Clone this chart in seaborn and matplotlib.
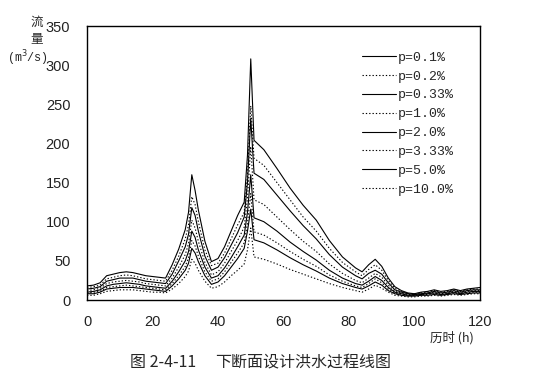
import matplotlib
matplotlib.use("Agg")
import matplotlib.pyplot as plt
import seaborn as sns
import pandas as pd

hours = [0, 2, 4, 6, 8, 10, 12, 14, 16, 18, 20, 22, 24, 26, 28, 30, 31, 32, 33, 34, 36, 38, 40, 42,
         44, 46, 48, 49, 50, 51, 54, 58, 62, 66, 70, 74, 78, 82, 84, 86, 88, 90, 92, 94, 96, 98,
         100, 102, 104, 106, 108, 110, 112, 114, 116, 118, 120]

labels = ["p=0.1%", "p=0.2%", "p=0.33%", "p=1.0%", "p=2.0%", "p=3.33%", "p=5.0%", "p=10.0%"]

q_p01 = [18, 19, 22, 31, 33, 35, 36, 35, 33, 31, 30, 29, 28, 45, 65, 90, 112, 160, 140, 115, 75, 49, 53, 68,
         88, 108, 125, 185, 308, 204, 192, 168, 143, 121, 102, 76, 55, 41, 36, 45, 52, 43, 28, 17, 12, 9,
         8, 10, 11, 13, 11, 12, 14, 12, 14, 15, 16]
q_p02 = [16, 17, 19, 27, 29, 31, 32, 31, 29, 27, 26, 25, 24, 38, 56, 78, 96, 132, 122, 100, 64, 44, 47, 60,
         78, 96, 112, 160, 248, 181, 172, 150, 128, 106, 88, 66, 48, 36, 31, 39, 45, 38, 25, 15, 11, 8,
         8, 9, 10, 12, 10, 11, 13, 11, 13, 14, 14]
q_p033 = [14, 15, 17, 24, 26, 28, 28, 28, 26, 24, 23, 22, 21, 33, 50, 68, 84, 118, 108, 88, 56, 38, 42, 54,
          70, 86, 106, 150, 232, 162, 154, 134, 114, 95, 78, 58, 42, 31, 27, 34, 38, 33, 22, 13, 10, 8,
          7, 8, 9, 11, 9, 10, 12, 10, 12, 13, 13]
q_p1 = [12, 13, 15, 21, 23, 24, 25, 24, 23, 21, 20, 19, 18, 28, 42, 58, 72, 102, 92, 75, 48, 32, 36, 47,
        62, 76, 93, 130, 196, 128, 122, 106, 90, 75, 62, 46, 34, 25, 22, 28, 34, 29, 19, 11, 9, 7,
        7, 8, 8, 10, 8, 9, 11, 9, 11, 12, 12]
q_p2 = [10, 11, 13, 18, 20, 21, 22, 21, 20, 18, 17, 16, 15, 24, 36, 50, 62, 88, 80, 64, 42, 28, 31, 41,
        54, 68, 83, 112, 160, 105, 100, 88, 74, 62, 51, 38, 28, 21, 19, 24, 30, 25, 16, 10, 8, 6,
        6, 7, 8, 9, 7, 8, 10, 8, 10, 11, 11]
q_p333 = [9, 10, 11, 16, 17, 18, 19, 18, 17, 16, 15, 14, 13, 21, 31, 43, 54, 76, 69, 56, 36, 24, 27, 36,
          48, 60, 73, 98, 136, 87, 83, 73, 62, 52, 43, 32, 24, 18, 16, 21, 27, 22, 14, 9, 7, 6,
          6, 7, 7, 8, 7, 8, 9, 8, 9, 10, 10]
q_p5 = [8, 8, 10, 14, 15, 16, 16, 16, 15, 14, 13, 12, 11, 18, 27, 38, 47, 66, 60, 49, 31, 20, 23, 31,
        42, 53, 66, 88, 116, 77, 73, 64, 54, 45, 37, 28, 21, 16, 14, 18, 23, 19, 12, 8, 6, 5,
        5, 6, 6, 7, 6, 7, 8, 7, 8, 9, 9]
q_p10 = [6, 6, 8, 11, 12, 13, 13, 13, 12, 11, 10, 10, 9, 14, 21, 30, 37, 52, 47, 38, 24, 15, 17, 23,
         31, 38, 46, 64, 92, 55, 52, 46, 39, 33, 27, 21, 16, 12, 10, 14, 19, 15, 10, 6, 5, 4,
         4, 5, 5, 6, 5, 6, 7, 6, 7, 8, 8]

series = [q_p01, q_p02, q_p033, q_p1, q_p2, q_p333, q_p5, q_p10]

x_ticks = [0, 20, 40, 60, 80, 100, 120]
y_ticks = [0, 50, 100, 150, 200, 250, 300, 350]

sns.set_theme(style="white")
plt.rcParams['font.family'] = ['Liberation Sans', 'Noto Sans CJK SC', 'DejaVu Sans']

fig = plt.figure(figsize=(5.38, 3.85), dpi=100)
ax = fig.add_axes([87 / 538, 1 - 300 / 385, (480 - 87) / 538, (300 - 26) / 385])

for i, (lab, vals) in enumerate(zip(labels, series)):
    df = pd.DataFrame({"t": hours, "q": vals})
    ls = "-" if i % 2 == 0 else (0, (1.2, 1.8))
    sns.lineplot(data=df, x="t", y="q", ax=ax, color="black", linewidth=0.8,
                 linestyle=ls, label=lab)

ax.set_xlim(0, 120)
ax.set_ylim(0, 350)
ax.set_xticks(x_ticks)
ax.set_yticks(y_ticks)
ax.set_xlabel("")
ax.set_ylabel("")
ax.tick_params(axis="both", direction="in", length=4, width=0.8, color="black",
               labelsize=10.5, labelcolor="#222222")
ax.tick_params(axis="y", pad=12)
ax.tick_params(axis="x", pad=11)
for sp in ax.spines.values():
    sp.set_color("black")
    sp.set_linewidth(1.0)

leg = ax.legend(loc="upper right", bbox_to_anchor=(0.963, 0.95), frameon=False,
                handlelength=2.6, handletextpad=0.1, labelspacing=0.5,
                prop={"family": "Liberation Mono", "size": 9.5})

fig.text(37 / 538, 1 - 22 / 385, "流", ha="center", va="center", fontsize=9,
         family=["Noto Sans CJK SC"])
fig.text(37 / 538, 1 - 39 / 385, "量", ha="center", va="center", fontsize=9,
         family=["Noto Sans CJK SC"])
fig.text(27 / 538, 1 - 58 / 385, "(m$^3$/s)", ha="center", va="center", fontsize=8.5,
         family=["Liberation Mono"])

fig.text(452 / 538, 1 - 338 / 385, "历时 (h)", ha="center", va="center", fontsize=9,
         family=["Noto Sans CJK SC", "DejaVu Sans"])
fig.text(130 / 538, 1 - 363 / 385, "图 2-4-11", ha="left", va="center",
         fontsize=11.5, family=["Noto Sans CJK SC", "DejaVu Sans"])
fig.text(215 / 538, 1 - 363 / 385, "下断面设计洪水过程线图", ha="left", va="center",
         fontsize=11.5, family=["Noto Sans CJK SC", "DejaVu Sans"])

fig.savefig("out.png", dpi=100, facecolor="white")
